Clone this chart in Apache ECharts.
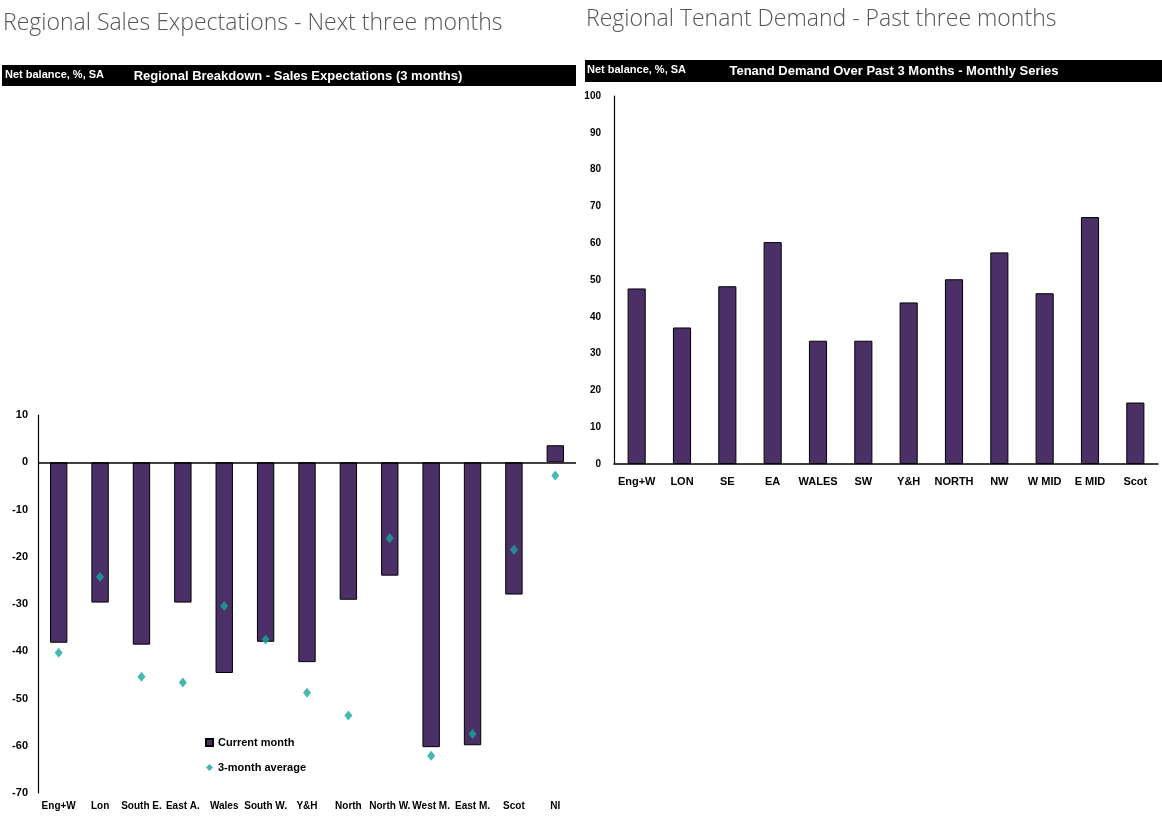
<!DOCTYPE html>
<html lang="en">
<head>
    <meta charset="UTF-8">
    <title>Regional Sales Expectations / Tenant Demand</title>
    <script src="https://cdn.jsdelivr.net/npm/echarts@6/dist/echarts.min.js"></script>
    <style>
        html, body {
            margin: 0;
            padding: 0;
            background: #fff;
        }

        #main {
            width: 1162px;
            height: 825px;
        }
    </style>
</head>
<body>
<div id="main"></div>
<script>
    // left chart - sales expectations, next 3 months
    var salesRegions = ['Eng+W', 'Lon', 'South E.', 'East A.', 'Wales', 'South W.', 'Y&H', 'North', 'North W.', 'West M.', 'East M.', 'Scot', 'NI'];
    var salesCurrent = [-38.2, -29.7, -38.6, -29.7, -44.6, -38.0, -42.3, -29.1, -24.0, -60.3, -59.9, -28.0, 3.6];
    var salesAvg3m = [-40.3, -24.3, -45.4, -46.6, -30.4, -37.5, -48.8, -53.6, -16.1, -62.1, -57.5, -18.5, -2.8];
    var salesTicks = {min: -70, max: 10, interval: 10};

    // right chart - tenant demand, past 3 months
    var tenantRegions = ['Eng+W', 'LON', 'SE', 'EA', 'WALES', 'SW', 'Y&H', 'NORTH', 'NW', 'W MID', 'E MID', 'Scot'];
    var tenantDemand = [47.7, 37.1, 48.3, 60.3, 33.5, 33.5, 43.9, 50.2, 57.5, 46.4, 67.1, 16.7];
    var tenantTicks = {min: 0, max: 100, interval: 10};

    var BAR = '#4b3068';
    var TEAL = '#17a89b';
    var FONT = '"Liberation Sans", Arial, sans-serif';
    var axisFont = {color: '#000', fontWeight: 'bold', fontSize: 11, fontFamily: FONT};
    var pageTitle = {fontFamily: '"Open Sans", sans-serif', fontWeight: 300, fontSize: 23, color: '#555'};

    var myChart = echarts.init(document.getElementById('main'));
    var option = {
        animation: false,
        title: [
            {text: 'Regional Sales Expectations - Next three months', left: 3, top: 12, padding: 0, textStyle: pageTitle},
            {text: 'Regional Tenant Demand - Past three months', left: 586, top: 8, padding: 0, textStyle: pageTitle}
        ],
        // black header strips
        graphic: [
            {type: 'rect', shape: {x: 2, y: 65, width: 574, height: 21}, style: {fill: '#000'}},
            {type: 'text', x: 5, y: 75, style: {text: 'Net balance, %, SA', fill: '#fff', font: 'bold 11px ' + FONT, verticalAlign: 'middle'}},
            {type: 'text', x: 298, y: 76, style: {text: 'Regional Breakdown - Sales Expectations (3 months)', fill: '#fff', font: 'bold 13px ' + FONT, align: 'center', verticalAlign: 'middle'}},
            {type: 'rect', shape: {x: 585, y: 60, width: 577, height: 22}, style: {fill: '#000'}},
            {type: 'text', x: 587, y: 70, style: {text: 'Net balance, %, SA', fill: '#fff', font: 'bold 11px ' + FONT, verticalAlign: 'middle'}},
            {type: 'text', x: 894, y: 71, style: {text: 'Tenand Demand Over Past 3 Months - Monthly Series', fill: '#fff', font: 'bold 13px ' + FONT, align: 'center', verticalAlign: 'middle'}}
        ],
        legend: {
            data: [
                {name: 'Current month', icon: 'rect'},
                {name: '3-month average', icon: 'diamond'}
            ],
            orient: 'vertical',
            left: 205, top: 737,
            padding: 0,
            itemWidth: 7, itemHeight: 7, itemGap: 14,
            textStyle: {color: '#000', fontWeight: 'bold', fontSize: 11, fontFamily: FONT}
        },
        grid: [
            {left: 38, right: 586, top: 415, bottom: 32},
            {left: 614, right: 4, top: 96, bottom: 361}
        ],
        xAxis: [
            {
                type: 'category', gridIndex: 0, data: salesRegions,
                axisLine: {show: false, onZero: false}, axisTick: {show: false},
                axisLabel: Object.assign({margin: 8, interval: 0}, axisFont, {fontSize: 10})
            },
            {
                type: 'category', gridIndex: 1, data: tenantRegions,
                axisLine: {lineStyle: {color: '#000', width: 1.5}}, axisTick: {show: false},
                axisLabel: Object.assign({margin: 12, interval: 0}, axisFont)
            }
        ],
        yAxis: [
            {
                type: 'value', gridIndex: 0,
                min: salesTicks.min, max: salesTicks.max, interval: salesTicks.interval,
                axisLine: {show: true, lineStyle: {color: '#000', width: 1.2}}, axisTick: {show: false},
                splitLine: {show: false},
                axisLabel: Object.assign({margin: 10}, axisFont)
            },
            {
                type: 'value', gridIndex: 1,
                min: tenantTicks.min, max: tenantTicks.max, interval: tenantTicks.interval,
                axisLine: {show: true, lineStyle: {color: '#000', width: 1.2}}, axisTick: {show: false},
                splitLine: {show: false},
                axisLabel: Object.assign({margin: 13}, axisFont, {fontSize: 10})
            }
        ],
        series: [
            {
                name: 'Current month', type: 'bar',
                xAxisIndex: 0, yAxisIndex: 0,
                data: salesCurrent, barWidth: '42%',
                itemStyle: {color: BAR, borderColor: '#000', borderWidth: 1},
                markLine: {
                    silent: true, symbol: 'none', label: {show: false},
                    lineStyle: {color: '#000', width: 1.5, type: 'solid'},
                    data: [{yAxis: 0}]
                }
            },
            {
                name: '3-month average', type: 'scatter',
                xAxisIndex: 0, yAxisIndex: 0,
                data: salesAvg3m, symbol: 'diamond', symbolSize: [8, 10],
                itemStyle: {color: TEAL}, z: 5
            },
            {
                name: 'Tenant demand', type: 'bar',
                xAxisIndex: 1, yAxisIndex: 1,
                data: tenantDemand, barWidth: '40%',
                itemStyle: {color: BAR, borderColor: '#000', borderWidth: 1}
            }
        ]
    };
    myChart.setOption(option);
</script>
</body>
</html>
